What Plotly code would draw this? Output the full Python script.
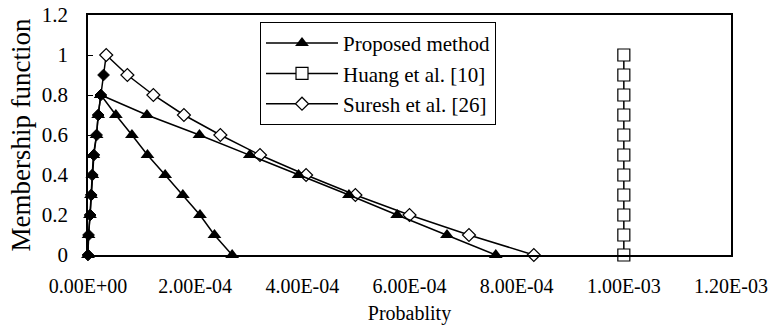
import plotly.graph_objects as go

# ---- data ----
levels_up = [0, 0.1, 0.2, 0.3, 0.4, 0.5, 0.6, 0.7, 0.8]
levels_down = [0.8, 0.7, 0.6, 0.5, 0.4, 0.3, 0.2, 0.1, 0]

proposed_left_x = [0, 1e-6, 3.7e-6, 5.6e-6, 8e-6, 1.0e-5, 1.6e-5, 1.9e-5, 2.4e-5]
proposed_steep_x = [2.4e-5, 5.2e-5, 8.2e-5, 1.11e-4, 1.44e-4, 1.77e-4, 2.09e-4, 2.36e-4, 2.69e-4]
proposed_shallow_x = [2.4e-5, 1.10e-4, 2.08e-4, 3.02e-4, 3.93e-4, 4.87e-4, 5.77e-4, 6.70e-4, 7.61e-4]

huang_x = [1.0e-3] * 11
huang_y = [0, 0.1, 0.2, 0.3, 0.4, 0.5, 0.6, 0.7, 0.8, 0.9, 1.0]

suresh_left_x = [0, 1e-6, 4e-6, 6e-6, 8e-6, 1.1e-5, 1.6e-5, 1.9e-5, 2.4e-5, 2.9e-5, 3.4e-5]
suresh_left_y = [0, 0.1, 0.2, 0.3, 0.4, 0.5, 0.6, 0.7, 0.8, 0.9, 1.0]
suresh_right_x = [3.4e-5, 7.35e-5, 1.22e-4, 1.79e-4, 2.47e-4, 3.21e-4, 4.07e-4, 4.99e-4, 6.0e-4, 7.11e-4, 8.32e-4]
suresh_right_y = [1.0, 0.9, 0.8, 0.7, 0.6, 0.5, 0.4, 0.3, 0.2, 0.1, 0]

x_tickvals = [0, 2e-4, 4e-4, 6e-4, 8e-4, 1.0e-3, 1.2e-3]
x_ticktext = ["0.00E+00", "2.00E-04", "4.00E-04", "6.00E-04", "8.00E-04", "1.00E-03", "1.20E-03"]
y_tickvals = [0, 0.2, 0.4, 0.6, 0.8, 1.0, 1.2]
y_ticktext = ["0", "0.2", "0.4", "0.6", "0.8", "1", "1.2"]

FONT = "Liberation Serif"
LINE = dict(color="black", width=1.5)

fig = go.Figure()

# Suresh (drawn first, beneath)
fig.add_trace(go.Scatter(
    x=suresh_left_x, y=suresh_left_y, mode="lines+markers", line=LINE,
    marker=dict(symbol="diamond", size=9, color="black", line=dict(color="black", width=1)),
    showlegend=False, cliponaxis=False, hoverinfo="skip"))
fig.add_trace(go.Scatter(
    x=suresh_right_x, y=suresh_right_y, mode="lines+markers", line=LINE,
    name="Suresh et al. [26]", legendrank=3,
    marker=dict(symbol="diamond", size=10, color="white", line=dict(color="black", width=1.2)),
    cliponaxis=False))

# Proposed method
fig.add_trace(go.Scatter(
    x=proposed_shallow_x, y=levels_down, mode="lines+markers", line=LINE,
    marker=dict(symbol="triangle-up", size=12, color="black"),
    showlegend=False, cliponaxis=False, hoverinfo="skip"))
fig.add_trace(go.Scatter(
    x=proposed_left_x + proposed_steep_x[1:], y=levels_up + levels_down[1:],
    mode="lines+markers", line=LINE, name="Proposed method", legendrank=1,
    marker=dict(symbol="triangle-up", size=12, color="black"),
    cliponaxis=False))

# Huang
fig.add_trace(go.Scatter(
    x=huang_x, y=huang_y, mode="lines+markers", line=LINE,
    name="Huang et al. [10]", legendrank=2,
    marker=dict(symbol="square", size=12, color="white", line=dict(color="black", width=1.2)),
    cliponaxis=False))

fig.update_layout(
    width=768, height=331,
    margin=dict(l=88, r=37, t=15, b=76, autoexpand=False),
    paper_bgcolor="white", plot_bgcolor="white",
    font=dict(family=FONT, size=21, color="black"),
    legend=dict(x=0.2675, y=0.971, xanchor="left", yanchor="top",
                bordercolor="black", borderwidth=1, bgcolor="white",
                font=dict(family=FONT, size=21, color="black"), itemwidth=72,
                tracegroupgap=0, traceorder="normal"),
    xaxis=dict(range=[0, 1.2e-3], tickvals=x_tickvals, ticktext=x_ticktext,
               tickfont=dict(family=FONT, size=20, color="black"),
               showgrid=False, zeroline=False, showline=True, linecolor="black",
               linewidth=1.5, mirror=True, ticks="", ticklabelstandoff=12,
               ticklabeloverflow="allow", automargin=False,
               title=dict(text="Probablity", font=dict(family=FONT, size=20), standoff=10)),
    yaxis=dict(range=[0, 1.2], tickvals=y_tickvals, ticktext=y_ticktext,
               tickfont=dict(family=FONT, size=21, color="black"),
               showgrid=False, zeroline=False, showline=True, linecolor="black",
               linewidth=1.5, mirror=True, ticks="inside", ticklen=5, tickcolor="black",
               ticklabelstandoff=14, automargin=False,
               title=dict(text="Membership function", font=dict(family=FONT, size=27), standoff=3)),
)

fig.write_html("out.html", post_script="document.body.style.margin='0';",
               config={"displayModeBar": False})
